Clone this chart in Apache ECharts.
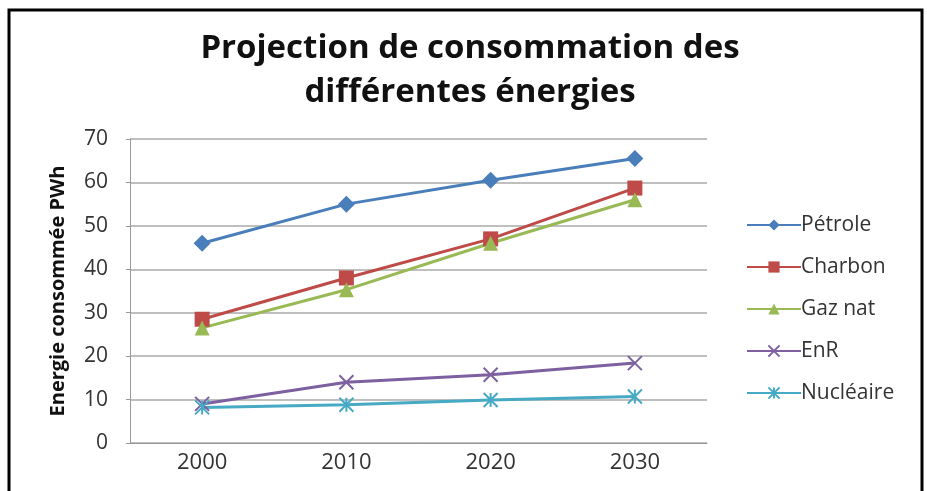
<!DOCTYPE html>
<html>
<head>
<meta charset="utf-8">
<script src="https://cdn.jsdelivr.net/npm/echarts@6/dist/echarts.min.js"></script>
<style>
  html, body { margin: 0; padding: 0; background: #fff; }
  #chart { width: 927px; height: 491px; }
</style>
</head>
<body>
<div id="chart"></div>
<script>
// données
const annees = ["2000", "2010", "2020", "2030"];
const petrole = [46, 55, 60.5, 65.5];
const charbon = [28.5, 38, 47, 58.7];
const gazNat = [26.5, 35.3, 46, 56];
const enr = [9, 14, 15.7, 18.4];
const nucleaire = [8.2, 8.8, 9.9, 10.7];

const FONT = "Open Sans";
const symX = "path://M0,0L10,10M10,0L0,10";
const symStar = "path://M0,0L10,10M10,0L0,10M5,0L5,10";

function serie(name, data, color, symbol, size, stroked) {
  return {
    name,
    type: "line",
    data,
    symbol,
    symbolSize: size,
    showAllSymbol: true,
    lineStyle: { color, width: 3 },
    itemStyle: stroked
      ? { color: "rgba(0,0,0,0)", borderColor: color, borderWidth: 2 }
      : { color },
    emphasis: { disabled: true },
  };
}

const chart = echarts.init(document.getElementById("chart"));
chart.setOption({
  animation: false,
  textStyle: { fontFamily: FONT },
  color: ["#4a7ebb", "#be4b48", "#98b954", "#7d60a0", "#46aac4"],
  title: {
    text: "Projection de consommation des\ndifférentes énergies",
    left: 465,
    top: 22,
    textAlign: "center",
    textStyle: {
      fontFamily: FONT,
      fontSize: 33,
      fontWeight: "bold",
      color: "#111",
      lineHeight: 44,
    },
  },
  graphic: [
    {
      type: "rect",
      shape: { x: 9, y: 10, width: 913, height: 495 },
      style: { fill: "none", stroke: "#000", lineWidth: 3 },
      silent: true,
    },
  ],
  legend: {
    orient: "vertical",
    left: 741,
    top: 209,
    itemGap: 20,
    itemWidth: 54,
    itemHeight: 14,
    textStyle: { fontFamily: FONT, fontSize: 21, lineHeight: 22, color: "#333", padding: [0, 0, 0, -5] },
    data: ["Pétrole", "Charbon", "Gaz nat", "EnR", "Nucléaire"],
  },
  grid: { left: 130, right: 220, top: 139, bottom: 48 },
  xAxis: {
    type: "category",
    data: annees,
    boundaryGap: true,
    axisLine: { lineStyle: { color: "#999", width: 1 } },
    axisTick: { show: false },
    axisLabel: { fontFamily: FONT, fontSize: 22, color: "#333", margin: 9 },
  },
  yAxis: {
    type: "value",
    min: 0,
    max: 70,
    interval: 10,
    name: "Energie consommée PWh",
    nameLocation: "middle",
    nameGap: 62,
    nameTextStyle: { fontFamily: FONT, fontSize: 20, fontWeight: "bold", color: "#111" },
    axisLine: { show: true, lineStyle: { color: "#999", width: 1 } },
    axisTick: { show: true, length: 4, lineStyle: { color: "#999" } },
    axisLabel: { fontFamily: FONT, fontSize: 21, color: "#333", margin: 22 },
    splitLine: { lineStyle: { color: "#aaa", width: 1.5 } },
  },
  series: [
    serie("Pétrole", petrole, "#4a7ebb", "diamond", 17, false),
    serie("Charbon", charbon, "#be4b48", "rect", 15, false),
    serie("Gaz nat", gazNat, "#98b954", "triangle", 15, false),
    serie("EnR", enr, "#7d60a0", symX, 14, true),
    serie("Nucléaire", nucleaire, "#46aac4", symStar, 14, true),
  ],
});
</script>
</body>
</html>
